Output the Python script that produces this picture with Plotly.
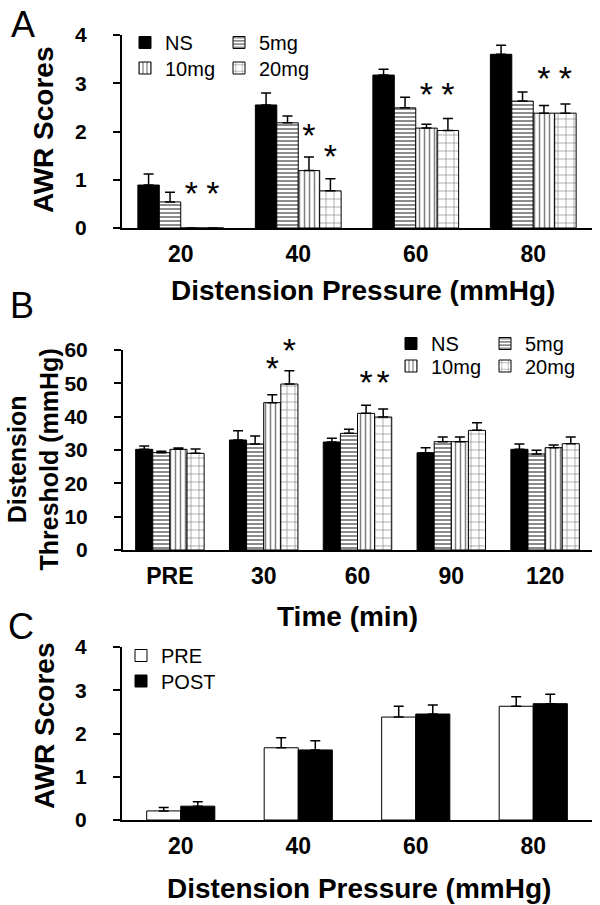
import plotly.graph_objects as go

# ---------------- DATA ----------------
# Panel A: AWR scores vs distension pressure
a_categories = ["20", "40", "60", "80"]
a_ns = [0.89, 2.55, 3.17, 3.60]
a_ns_err = [0.23, 0.25, 0.12, 0.19]
a_5mg = [0.54, 2.18, 2.49, 2.63]
a_5mg_err = [0.20, 0.14, 0.22, 0.19]
a_10mg = [0.0, 1.19, 2.07, 2.38]
a_10mg_err = [0.0, 0.28, 0.08, 0.16]
a_20mg = [0.0, 0.77, 2.02, 2.38]
a_20mg_err = [0.0, 0.25, 0.25, 0.19]
a_star_cat = ["20", "20", "40", "40", "60", "60", "80", "80"]
a_star_series = ["10mg", "20mg", "10mg", "20mg", "10mg", "20mg", "10mg", "20mg"]
a_star_y = [0.66, 0.66, 1.86, 1.41, 2.71, 2.71, 3.04, 3.04]

# Panel B: distension threshold vs time
b_categories = ["PRE", "30", "60", "90", "120"]
b_ns = [30.2, 33.0, 32.4, 29.2, 30.2]
b_ns_err = [1.0, 2.8, 1.1, 1.5, 1.6]
b_5mg = [29.2, 31.8, 35.0, 32.5, 28.8]
b_5mg_err = [0.4, 2.4, 1.2, 1.4, 1.1]
b_10mg = [30.2, 44.2, 41.0, 32.5, 30.7]
b_10mg_err = [0.4, 2.4, 2.4, 1.4, 0.8]
b_20mg = [29.0, 49.8, 39.9, 35.9, 31.9]
b_20mg_err = [1.3, 4.0, 2.4, 2.3, 2.0]
b_star_cat = ["30", "30", "60", "60"]
b_star_series = ["10mg", "20mg", "10mg", "20mg"]
b_star_y = [53.7, 59.1, 49.5, 49.5]

# Panel C: AWR scores PRE / POST
c_categories = ["20", "40", "60", "80"]
c_pre = [0.21, 1.67, 2.38, 2.63]
c_pre_err = [0.08, 0.23, 0.25, 0.22]
c_post = [0.32, 1.62, 2.45, 2.69]
c_post_err = [0.10, 0.21, 0.21, 0.22]

series_names = ["NS", "5mg", "10mg", "20mg"]
a_ticks = [0, 1, 2, 3, 4]
b_ticks = [0, 10, 20, 30, 40, 50, 60]
c_ticks = [0, 1, 2, 3, 4]

# ---------------- STYLE ----------------
W, H = 600, 905
FONT = "Liberation Sans, Arial, sans-serif"
BARGAP = 0.27
C_BAR_W = 0.29

styles = {
    "NS": dict(color="black", pattern=None),
    "5mg": dict(color="white", pattern=dict(shape="-", fgcolor="black", bgcolor="white", size=4, solidity=0.45, fillmode="overlay")),
    "10mg": dict(color="white", pattern=dict(shape="|", fgcolor="black", bgcolor="white", size=5, solidity=0.3, fillmode="overlay")),
    "20mg": dict(color="white", pattern=dict(shape="+", fgcolor="black", bgcolor="white", size=8, solidity=0.15, fillmode="overlay")),
}


def px_x(p):
    return p / W


def px_y(p):
    return 1 - p / H


def err(arr):
    return dict(type="data", array=arr, arrayminus=[0] * len(arr), symmetric=False,
                color="black", thickness=1.5, width=5)


def marker_for(name):
    s = styles[name]
    m = dict(color=s["color"], line=dict(color="black", width=1))
    if s["pattern"]:
        m["pattern"] = s["pattern"]
    return m


fig = go.Figure()

# Panel A bars
a_vals = [a_ns, a_5mg, a_10mg, a_20mg]
a_errs = [a_ns_err, a_5mg_err, a_10mg_err, a_20mg_err]
a_idx = list(range(len(a_categories)))
for i, name in enumerate(series_names):
    fig.add_trace(go.Bar(
        x=a_idx, y=a_vals[i], name=name, marker=marker_for(name),
        error_y=err(a_errs[i]), xaxis="x", yaxis="y",
        legend="legend" if i < 2 else "legend2", showlegend=True,
    ))

# Panel B bars
b_vals = [b_ns, b_5mg, b_10mg, b_20mg]
b_errs = [b_ns_err, b_5mg_err, b_10mg_err, b_20mg_err]
b_idx = list(range(len(b_categories)))
for i, name in enumerate(series_names):
    fig.add_trace(go.Bar(
        x=b_idx, y=b_vals[i], name=name, marker=marker_for(name),
        error_y=err(b_errs[i]), xaxis="x2", yaxis="y2",
        legend="legend3" if i < 2 else "legend4", showlegend=True,
    ))

# Panel C bars
c_idx = list(range(len(c_categories)))
fig.add_trace(go.Bar(
    x=c_idx, y=c_pre, name="PRE", width=C_BAR_W, offset=-C_BAR_W,
    marker=dict(color="white", line=dict(color="black", width=1)),
    error_y=err(c_pre_err), xaxis="x3", yaxis="y3", legend="legend5",
))
fig.add_trace(go.Bar(
    x=c_idx, y=c_post, name="POST", width=C_BAR_W, offset=0,
    marker=dict(color="black", line=dict(color="black", width=1)),
    error_y=err(c_post_err), xaxis="x3", yaxis="y3", legend="legend6",
))


# Significance stars (placed over the corresponding grouped bar)
def star_x(cats, star_cats, star_series):
    slot = (1 - BARGAP) / len(series_names)
    out = []
    for c, s in zip(star_cats, star_series):
        k = series_names.index(s)
        out.append(cats.index(c) + (k - (len(series_names) - 1) / 2) * slot)
    return out


fig.add_trace(go.Scatter(
    x=star_x(a_categories, a_star_cat, a_star_series), y=a_star_y, mode="text",
    text=["*"] * len(a_star_y), textposition="middle center",
    textfont=dict(family=FONT, size=34, color="black"),
    xaxis="x", yaxis="y", showlegend=False, cliponaxis=False, hoverinfo="skip",
))
fig.add_trace(go.Scatter(
    x=star_x(b_categories, b_star_cat, b_star_series), y=b_star_y, mode="text",
    text=["*"] * len(b_star_y), textposition="middle center",
    textfont=dict(family=FONT, size=34, color="black"),
    xaxis="x2", yaxis="y2", showlegend=False, cliponaxis=False, hoverinfo="skip",
))

xtickfont = dict(family=FONT, size=23, color="black", weight="bold")
ytickfont = dict(family=FONT, size=21, color="black", weight="bold")


def xaxis(domain, cats, anchor):
    return dict(domain=domain, anchor=anchor, range=[-0.5, len(cats) - 0.5],
                tickvals=list(range(len(cats))), ticktext=cats, ticks="",
                showline=True, linecolor="black", linewidth=2, showgrid=False,
                zeroline=False, tickfont=xtickfont, ticklabelstandoff=4,
                fixedrange=True, automargin=False)


def yaxis(domain, rng, ticks, anchor):
    return dict(domain=domain, anchor=anchor, range=rng, tickvals=ticks,
                ticks="outside", ticklen=7, tickwidth=1.5, tickcolor="black",
                showline=True, linecolor="black", linewidth=2, showgrid=False,
                zeroline=False, tickfont=ytickfont, ticklabelstandoff=22,
                fixedrange=True, automargin=False)


legend_base = dict(orientation="h", xanchor="left", yanchor="middle",
                   bgcolor="rgba(0,0,0,0)", font=dict(family=FONT, size=20, color="black"),
                   entrywidth=49, entrywidthmode="pixels", itemwidth=30)


def leg(xp, yp):
    d = dict(legend_base)
    d.update(x=px_x(xp), y=px_y(yp))
    return d


def ann(text, xp, yp, size, bold=True, angle=0):
    return dict(text=text, x=px_x(xp), y=px_y(yp), xref="paper", yref="paper",
                showarrow=False, xanchor="center", yanchor="middle", textangle=angle,
                font=dict(family=FONT, size=size, color="black",
                          weight="bold" if bold else "normal"), align="center")


fig.update_layout(
    width=W, height=H,
    margin=dict(l=0, r=0, t=0, b=0, pad=0, autoexpand=False),
    paper_bgcolor="white", plot_bgcolor="white",
    barmode="group", bargap=BARGAP, bargroupgap=0,
    font=dict(family=FONT, color="black"),
    xaxis=xaxis([px_x(122), px_x(592)], a_categories, "y"),
    yaxis=yaxis([px_y(228), px_y(35)], [0, 4], a_ticks, "x"),
    xaxis2=xaxis([px_x(123), px_x(592)], b_categories, "y2"),
    yaxis2=yaxis([px_y(550), px_y(350)], [0, 60], b_ticks, "x2"),
    xaxis3=xaxis([px_x(122), px_x(592)], c_categories, "y3"),
    yaxis3=yaxis([px_y(820), px_y(647)], [0, 4], c_ticks, "x3"),
    legend=leg(125, 42.5),
    legend2=leg(125, 68),
    legend3=leg(391, 343.5),
    legend4=leg(391, 366),
    legend5=leg(121, 655.5),
    legend6=leg(121, 681),
    annotations=[
        ann("A", 22.5, 24, 36, bold=False),
        ann("B", 21.5, 306, 36, bold=False),
        ann("C", 21, 626, 36, bold=False),
        ann("AWR Scores", 44, 130, 28, angle=-90),
        ann("Distension<br>Threshold (mmHg)", 32.5, 460, 25, angle=-90),
        ann("AWR Scores", 44, 726, 28, angle=-90),
        ann("Distension Pressure (mmHg)", 363, 290, 28),
        ann("Time (min)", 347, 616, 28),
        ann("Distension Pressure (mmHg)", 359, 888, 28),
    ],
)

fig.write_html(
    "out.html",
    config={"displayModeBar": False},
    post_script="document.body.style.margin='0';document.body.style.padding='0';",
)
